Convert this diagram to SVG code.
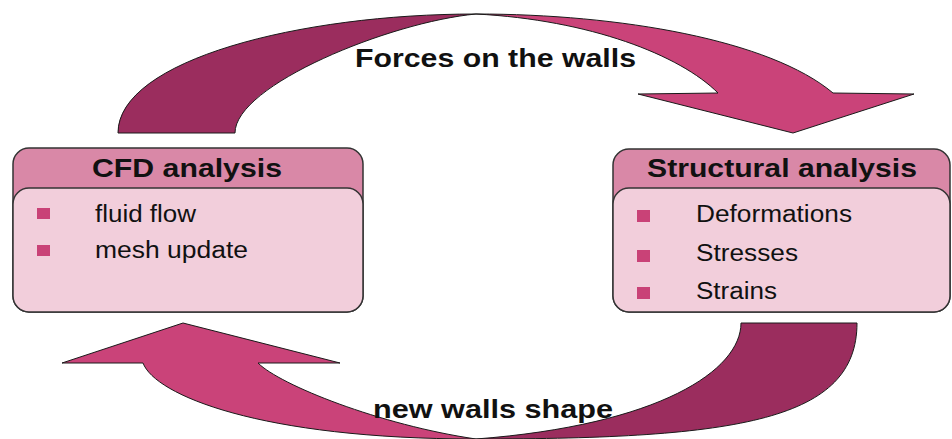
<svg xmlns="http://www.w3.org/2000/svg" width="952" height="439" viewBox="0 0 952 439">
<style>
.back{fill:#9B2D5E;stroke:#1a1a1a;stroke-width:1;stroke-linejoin:round}
.front{fill:#CA4379;stroke:#1a1a1a;stroke-width:1;stroke-linejoin:round}
.hdr{fill:#D988A7;stroke:#333;stroke-width:1.5}
.body{fill:#F2CEDB;stroke:#333;stroke-width:1.5}
.bul{fill:#C94277}
.title{font-family:"Liberation Sans",Arial,sans-serif;font-weight:bold;font-size:26px;fill:#111}
.item{font-family:"Liberation Sans",Arial,sans-serif;font-size:23px;fill:#111}
.lbl{font-family:"Liberation Sans",Arial,sans-serif;font-weight:bold;font-size:26px;fill:#111}
</style>
<rect width="952" height="439" fill="#fff"/>
<g id="connectors">
  <g id="forces-arrow">
    <path class="back" d="M118,133 C118,60 300,14 476,14 C390,22 235,85 235,133 Z"/>
    <path class="front" d="M476,14 C620,14 770,40 833,93 L914,94 L793,133 L638,94 L718,93 C680,55 590,20 476,14 Z"/>
    <text class="lbl" x="355" y="67" textLength="281" lengthAdjust="spacingAndGlyphs">Forces on the walls</text>
  </g>
  <g id="shape-arrow">
    <path class="back" d="M857,323 C857,420 740,439 476,439 C660,425 741,370 741,323 Z"/>
    <path class="front" d="M476,439 C260,439 155,395 143,363 L62,363 L183,323 L340,363 L258,363 C280,385 380,425 476,439 Z"/>
    <text class="lbl" x="373" y="418" textLength="240" lengthAdjust="spacingAndGlyphs">new walls shape</text>
  </g>
</g>
<g id="cfd">
  <rect class="hdr" x="13" y="148" width="350" height="164" rx="16"/>
  <rect class="body" x="13" y="188" width="350" height="124" rx="16"/>
  <text class="title" x="92" y="177" textLength="190" lengthAdjust="spacingAndGlyphs">CFD analysis</text>
  <rect class="bul" x="37" y="208" width="13" height="11"/>
  <text class="item" x="95" y="222" textLength="101" lengthAdjust="spacingAndGlyphs">fluid flow</text>
  <rect class="bul" x="37" y="245" width="13" height="11"/>
  <text class="item" x="95" y="258" textLength="153" lengthAdjust="spacingAndGlyphs">mesh update</text>
</g>
<g id="structural">
  <rect class="hdr" x="613" y="149" width="337" height="163" rx="16"/>
  <rect class="body" x="613" y="188" width="337" height="124" rx="16"/>
  <text class="title" x="647" y="177" textLength="270" lengthAdjust="spacingAndGlyphs">Structural analysis</text>
  <rect class="bul" x="637" y="210" width="13" height="12"/>
  <text class="item" x="696" y="222" textLength="156" lengthAdjust="spacingAndGlyphs">Deformations</text>
  <rect class="bul" x="637" y="250" width="13" height="12"/>
  <text class="item" x="696" y="261" textLength="102" lengthAdjust="spacingAndGlyphs">Stresses</text>
  <rect class="bul" x="637" y="287" width="13" height="12"/>
  <text class="item" x="696" y="299" textLength="81" lengthAdjust="spacingAndGlyphs">Strains</text>
</g>
</svg>
